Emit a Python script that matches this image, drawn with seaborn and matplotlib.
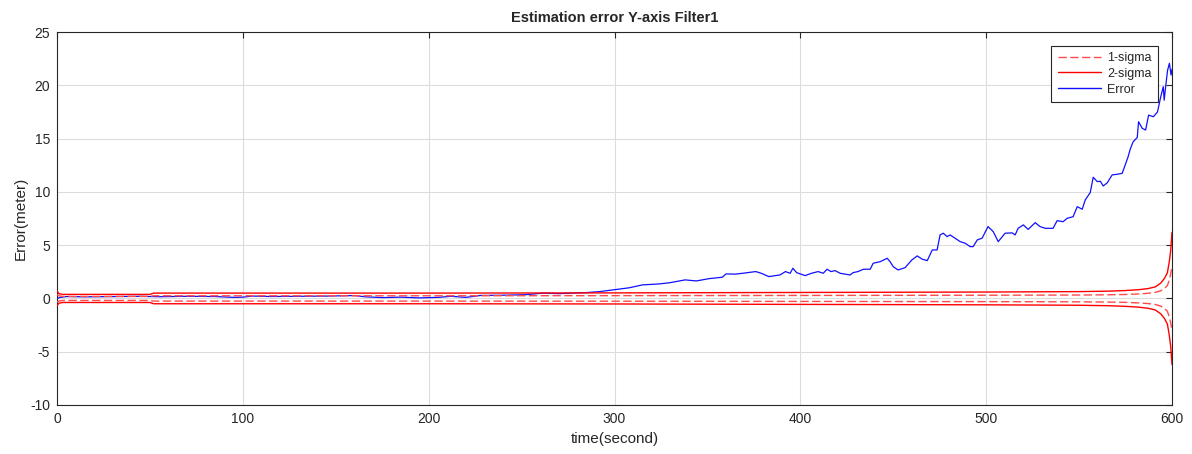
import numpy as np
import pandas as pd
import matplotlib
matplotlib.use("Agg")
import matplotlib.pyplot as plt
import seaborn as sns
from matplotlib.lines import Line2D

# ---- data ----
t_err = [0, 2, 5, 15, 30, 45, 55, 70, 85, 95, 100, 105, 115, 130, 145, 160, 166, 175,
         185, 195, 205, 212, 220, 228, 240, 252, 262, 270, 276, 285, 292, 299, 308, 315,
         324, 330, 338, 344, 351, 358, 360, 365, 369, 376, 379, 383, 389, 392, 394.5, 396,
         398, 402.6, 406, 409.6, 412.3, 414.4, 416.5, 418.7, 421.4, 426.8, 428.4, 431, 434,
         437.6, 439.2, 443, 446.7, 448.3, 450, 452.6, 456.4, 460, 462.9, 465.6, 468.3, 471,
         473.6, 475.2, 476.9, 479, 480.6, 483.3, 486, 488.7, 491.4, 493, 495.2, 497.8, 501,
         503.8, 506.5, 510.2, 514, 515.6, 517.2, 520, 522.6, 526.4, 529, 531.8, 536, 538.2,
         541.4, 543.6, 546.8, 549, 551.7, 553.3, 556, 557.6, 559.8, 561.4, 563, 565.2, 567.8,
         570.5, 573.2, 574.8, 576.4, 577.5, 579.1, 581.3, 582, 584, 585.8, 587.4, 590, 592.2,
         593.9, 595.3, 595.8, 596.6, 597.6, 598.6, 599.5, 600]
err = [0.0, 0.1, 0.18, 0.15, 0.18, 0.2, 0.16, 0.2, 0.18, 0.1, 0.12, 0.22, 0.18, 0.2, 0.22,
       0.27, 0.15, 0.08, 0.12, 0.05, 0.1, 0.2, 0.1, 0.28, 0.3, 0.35, 0.5, 0.45, 0.49, 0.55,
       0.64, 0.8, 1.0, 1.27, 1.36, 1.48, 1.74, 1.64, 1.86, 1.99, 2.3, 2.28, 2.36, 2.52, 2.36,
       2.05, 2.2, 2.52, 2.36, 2.83, 2.42, 2.14, 2.36, 2.52, 2.36, 2.74, 2.52, 2.61, 2.36, 2.2,
       2.42, 2.52, 2.74, 2.74, 3.3, 3.45, 3.77, 3.45, 2.98, 2.67, 2.89, 3.61, 3.99, 3.68, 3.55,
       4.55, 4.55, 5.96, 6.12, 5.8, 5.96, 5.65, 5.33, 5.18, 4.86, 4.86, 5.49, 5.65, 6.74, 6.27,
       5.33, 6.12, 6.15, 5.96, 6.58, 6.9, 6.48, 7.11, 6.74, 6.58, 6.58, 7.3, 7.2, 7.52, 7.67,
       8.61, 8.37, 9.24, 9.93, 11.37, 10.96, 11.0, 10.55, 10.86, 11.59, 11.65, 11.74, 12.52,
       13.3, 14.0, 14.7, 15.1, 16.58, 15.96, 15.8, 17.2, 17.05, 17.5, 18.9, 19.87, 18.6, 19.9,
       21.4, 22.06, 20.96, 21.5]

t_sig = [0, 1, 3, 50, 52, 100, 200, 300, 400, 500, 550, 565, 575, 582, 587, 591, 594, 596,
         597.5, 598.5, 599.3, 600]
sig1 = [0.35, 0.25, 0.19, 0.19, 0.25, 0.25, 0.25, 0.26, 0.28, 0.3, 0.32, 0.34, 0.37, 0.42,
        0.48, 0.57, 0.72, 0.95, 1.2, 1.7, 2.3, 3.0]
sig2 = [0.7, 0.45, 0.38, 0.38, 0.5, 0.5, 0.5, 0.52, 0.56, 0.6, 0.64, 0.68, 0.74, 0.82, 0.92,
        1.08, 1.45, 1.9, 2.4, 3.4, 4.5, 6.2]

title = "Estimation error Y-axis Filter1"
xlabel = "time(second)"
ylabel = "Error(meter)"

# ---- plotting ----
sns.set_style("white")
plt.rcParams['font.family'] = ['Liberation Sans', 'DejaVu Sans']
plt.rcParams['axes.unicode_minus'] = False

fig = plt.figure(figsize=(11.92, 4.54), dpi=100)
ax = fig.add_axes([57/1192, 1-405/454, (1172-57)/1192, (405-32)/454])

df_err = pd.DataFrame({"t": t_err, "v": err})
df_sig = pd.DataFrame({"t": t_sig, "s1": sig1, "s2": sig2})
df_sig["m1"] = -df_sig["s1"]
df_sig["m2"] = -df_sig["s2"]

blue = "#1010ff"
red = "#ff0000"
dred = "#ff4a4a"
dash = (0, (6, 2.5))

sns.lineplot(data=df_err, x="t", y="v", ax=ax, color=blue, lw=0.9,
             estimator=None, sort=False, zorder=3)
sns.lineplot(data=df_sig, x="t", y="s2", ax=ax, color=red, lw=1.0,
             estimator=None, sort=False, zorder=4)
sns.lineplot(data=df_sig, x="t", y="m2", ax=ax, color=red, lw=1.0,
             estimator=None, sort=False, zorder=4)
sns.lineplot(data=df_sig, x="t", y="s1", ax=ax, color=dred, lw=1.0,
             estimator=None, sort=False, zorder=4, linestyle=dash)
sns.lineplot(data=df_sig, x="t", y="m1", ax=ax, color=dred, lw=1.0,
             estimator=None, sort=False, zorder=4, linestyle=dash)

ax.set_xlim(0, 600)
ax.set_ylim(-10, 25)
ax.set_xticks(np.arange(0, 601, 100))
ax.set_yticks(np.arange(-10, 26, 5))
ax.grid(True, color="#dcdcdc", lw=0.8)
ax.set_axisbelow(True)
for s in ax.spines.values():
    s.set_color("#262626")
    s.set_linewidth(0.8)
ax.tick_params(direction="in", top=True, right=True, length=4, width=0.8,
               colors="#262626", labelsize=10, labelcolor="#262626", pad=5)
ax.set_title(title, fontsize=10.5, fontweight="bold", pad=7)
ax.set_xlabel(xlabel, fontsize=11, labelpad=4, color="#262626")
ax.set_ylabel(ylabel, fontsize=11, labelpad=2, color="#262626")

handles = [Line2D([], [], color=dred, lw=1.0, linestyle=dash),
           Line2D([], [], color=red, lw=1.0),
           Line2D([], [], color=blue, lw=1.0)]
leg = ax.legend(handles, ["1-sigma", "2-sigma", "Error"], loc="upper right",
                fontsize=9, handlelength=3.5, fancybox=False, framealpha=1,
                edgecolor="#262626", borderaxespad=1.1, labelspacing=0.3,
                handletextpad=0.5, borderpad=0.5)
leg.get_frame().set_linewidth(0.8)

fig.savefig("out.png", dpi=100)
